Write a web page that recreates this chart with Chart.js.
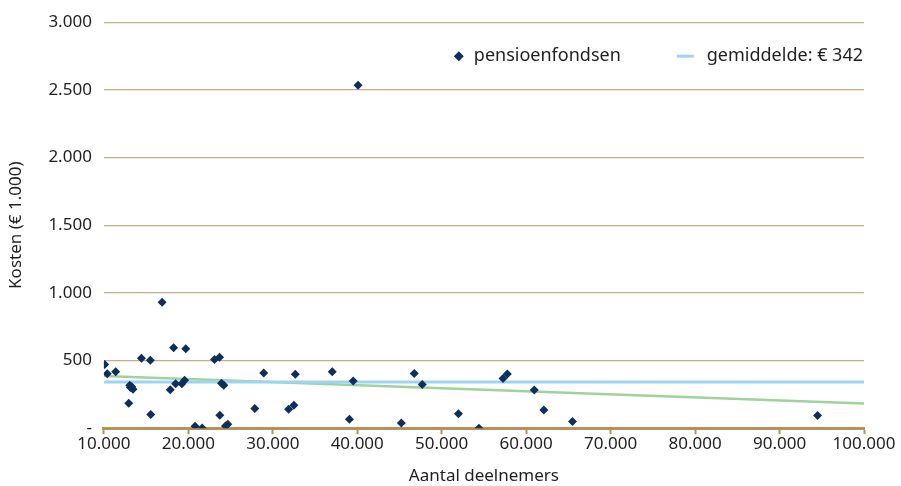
<!DOCTYPE html>
<html>
<head>
<meta charset="utf-8">
<script src="https://cdn.jsdelivr.net/npm/chart.js@4"></script>
<style>
  html, body { margin: 0; padding: 0; background: #fff; }
  #wrap { width: 901px; height: 486px; position: relative; }
</style>
</head>
<body>
<div id="wrap"><canvas id="c"></canvas></div>
<script>
// ---------- 데이터 ----------
// 참여자 수 (x) 와 비용 (€ 1.000, y)
const deelnemers = [
  10100, 10400, 11400, 12950, 13070, 13300, 13450, 13150, 14450, 15500,
  15550, 16900, 17860, 18260, 18500, 19240, 19560, 19700, 20800, 21640,
  23100, 23700, 23730, 23930, 24200, 24400, 24680, 27870, 28930, 31880,
  32500, 32670, 37040, 39080, 39520, 40100, 45220, 46750, 47700, 51980,
  54420, 57260, 57770, 60960, 62100, 65490, 94500
];
const kosten = [
  470, 403, 418, 184, 317, 307, 287, 300, 516, 503,
  101, 931, 285, 595, 329, 329, 354, 587, 15, 2,
  508, 525, 96, 332, 317, 17, 29, 145, 408, 140,
  170, 398, 418, 66, 349, 2535, 39, 405, 322, 106,
  0, 368, 400, 282, 135, 49, 93
];

// 평균선 (범례 값) 과 추세선 양 끝점
const gemiddelde = 342;
const lijnX = [10000, 100000];
const trendY = [385, 182];

// 축 눈금
const xTicks = [10000, 20000, 30000, 40000, 50000, 60000, 70000, 80000, 90000, 100000];
const yTicks = [0, 500, 1000, 1500, 2000, 2500, 3000];

// ---------- 스타일 ----------
const NAVY = '#0e2f5c';
const MEAN_COLOR = '#9fd3f3';
const TREND_COLOR = '#9fd39b';
const GRID_COLOR = '#c6ad85';
const AXIS_COLOR = '#b8915a';
const TEXT_COLOR = '#1f1f1f';
const FONT = 'Noto Sans';
const FONT_SIZE = 17;

function nlNumber(v) {
  if (v === 0) return '-';
  return v.toLocaleString('de-DE');
}

const points = deelnemers.map((x, i) => ({ x, y: kosten[i] }));

// 범례: 플롯 영역 안쪽 우상단에 직접 그린다 (기본 legend는 영역 밖으로 밀려남)
const insideLegend = {
  id: 'insideLegend',
  afterDraw(chart) {
    const { ctx, chartArea } = chart;
    const ds = chart.data.datasets;
    const y = chartArea.top + 34;
    ctx.save();
    ctx.font = `18px "${FONT}"`;
    ctx.fillStyle = TEXT_COLOR;
    ctx.textBaseline = 'middle';

    // 오른쪽 항목: 평균선
    const t2 = ds[1].label;
    const x2 = chartArea.right - 1 - ctx.measureText(t2).width;
    ctx.fillText(t2, x2, y);
    ctx.strokeStyle = MEAN_COLOR;
    ctx.lineWidth = 3;
    ctx.beginPath();
    ctx.moveTo(x2 - 30, y);
    ctx.lineTo(x2 - 13, y);
    ctx.stroke();

    // 왼쪽 항목: 산점
    const t1 = ds[0].label;
    const x1 = x2 - 86 - ctx.measureText(t1).width;
    ctx.fillText(t1, x1, y);
    ctx.fillStyle = NAVY;
    ctx.beginPath();
    const cx = x1 - 15, r = 5;
    ctx.moveTo(cx, y - r);
    ctx.lineTo(cx + r, y);
    ctx.lineTo(cx, y + r);
    ctx.lineTo(cx - r, y);
    ctx.closePath();
    ctx.fill();
    ctx.restore();
  },
};

new Chart(document.getElementById('c'), {
  type: 'scatter',
  data: {
    datasets: [
      {
        label: 'pensioenfondsen',
        data: points,
        pointStyle: 'rectRot',
        pointRadius: 4.5,
        backgroundColor: NAVY,
        borderColor: NAVY,
        borderWidth: 0,
      },
      {
        label: 'gemiddelde: € 342',
        type: 'line',
        data: lijnX.map(x => ({ x, y: gemiddelde })),
        borderColor: MEAN_COLOR,
        borderWidth: 3,
        pointRadius: 0,
      },
      {
        label: 'trend',
        type: 'line',
        data: lijnX.map((x, i) => ({ x, y: trendY[i] })),
        borderColor: TREND_COLOR,
        borderWidth: 2.5,
        pointRadius: 0,
      },
    ],
  },
  plugins: [insideLegend],
  options: {
    responsive: true,
    maintainAspectRatio: false,
    animation: false,
    layout: { padding: { top: 14, right: 37, left: 6, bottom: 0 } },
    plugins: {
      tooltip: { enabled: false },
      legend: { display: false },
    },
    scales: {
      x: {
        type: 'linear',
        min: 10000,
        max: 100000,
        afterBuildTicks: (axis) => { axis.ticks = xTicks.map(v => ({ value: v })); },
        ticks: {
          callback: nlNumber,
          color: TEXT_COLOR,
          font: { family: FONT, size: FONT_SIZE },
          maxRotation: 0,
          padding: 0,
        },
        grid: {
          drawOnChartArea: false,
          drawTicks: true,
          tickLength: 6,
          tickWidth: 2,
          tickColor: AXIS_COLOR,
        },
        border: { color: AXIS_COLOR, width: 3 },
        title: {
          display: true,
          text: 'Aantal deelnemers',
          color: TEXT_COLOR,
          font: { family: FONT, size: FONT_SIZE },
          padding: { top: 11, bottom: 0 },
        },
      },
      y: {
        min: 0,
        max: 3000,
        afterBuildTicks: (axis) => { axis.ticks = yTicks.map(v => ({ value: v })); },
        ticks: {
          callback: nlNumber,
          color: TEXT_COLOR,
          font: { family: FONT, size: FONT_SIZE },
          padding: 12,
        },
        grid: {
          color: GRID_COLOR,
          lineWidth: 1.2,
          drawTicks: false,
        },
        border: { display: false },
        title: {
          display: true,
          text: 'Kosten (€ 1.000)',
          color: TEXT_COLOR,
          font: { family: FONT, size: FONT_SIZE },
          padding: { top: 0, bottom: 10 },
        },
      },
    },
  },
});
</script>
</body>
</html>
